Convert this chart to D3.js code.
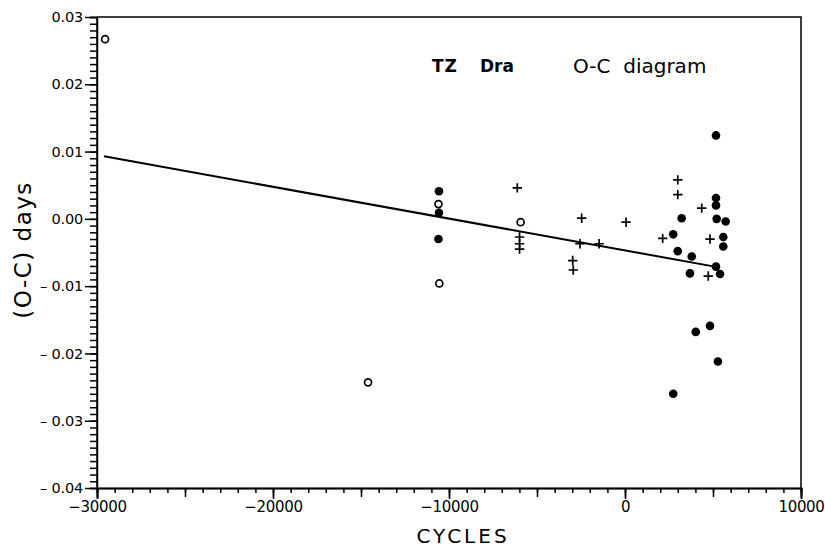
<!DOCTYPE html>
<html>
<head>
<meta charset="utf-8">
<script src="https://cdn.jsdelivr.net/npm/d3@7"></script>
<style>
  body { margin: 0; background: #fff; }
  svg { display: block; }
  .axis path, .axis line { stroke: #000; stroke-width: 1.5; }
  .axis text { font-family: "DejaVu Sans", sans-serif; fill: #000; }
</style>
</head>
<body>
<div id="wrapper"></div>
<script>
// data
const filledCycles = [-10570, -10570, -10600, 5170, 5170, 5170, 3220, 5210, 5720, 2740, 5585, 5585, 2995, 3790, 5170, 3690, 5400, 4830, 4020, 5280, 2740];
const filledOC = [0.0041, 0.0009, -0.0030, 0.0124, 0.0031, 0.0020, 0.0001, 0.0000, -0.0004, -0.0023, -0.0027, -0.0041, -0.0048, -0.0056, -0.0071, -0.0081, -0.0082, -0.0159, -0.0168, -0.0212, -0.0260];

const openCycles = [-29540, -10600, -10550, -5930, -14600];
const openOC = [0.0267, 0.0022, -0.0096, -0.0005, -0.0243];

const plusCycles = [-6120, -5990, -5990, -5990, -2460, -2560, -2970, -2940, -1470, 60, 2140, 3000, 3000, 4360, 4830, 4730];
const plusOC = [0.0046, -0.0027, -0.0037, -0.0045, 0.0001, -0.0037, -0.0062, -0.0076, -0.0037, -0.0005, -0.0029, 0.0058, 0.0036, 0.0016, -0.0030, -0.0085];

const fitCycles = [-29600, 5100];
const fitOC = [0.0093, -0.0071];

const xMajorTicks = [-30000, -20000, -10000, 0, 10000];
const yMajorTicks = [0.03, 0.02, 0.01, 0.00, -0.01, -0.02, -0.03, -0.04];

function drawChart() {
  const width = 825;
  const height = 547;
  const plot = { left: 97, right: 801, top: 17, bottom: 488 };

  const svg = d3.select("#wrapper").append("svg")
    .attr("width", width)
    .attr("height", height);

  const xScale = d3.scaleLinear().domain([-30000, 10000]).range([plot.left, plot.right]);
  const yScale = d3.scaleLinear().domain([-0.04, 0.03]).range([plot.bottom, plot.top]);

  // frame: top and right borders
  svg.append("path")
    .attr("d", `M${plot.left},${plot.top}H${plot.right}V${plot.bottom}`)
    .attr("fill", "none")
    .attr("stroke", "#000")
    .attr("stroke-width", 1.5);

  // x axis: minor, mid and labelled ticks
  const xMinor = d3.range(-30000, 10001, 1000);
  const xMid = d3.range(-30000, 10001, 5000);
  svg.append("g").attr("class", "axis")
    .attr("transform", `translate(0,${plot.bottom})`)
    .call(d3.axisBottom(xScale).tickValues(xMinor).tickSize(5).tickFormat(""));
  svg.append("g").attr("class", "axis")
    .attr("transform", `translate(0,${plot.bottom})`)
    .call(d3.axisBottom(xScale).tickValues(xMid).tickSize(9).tickFormat(""));
  const xAxis = svg.append("g").attr("class", "axis")
    .attr("transform", `translate(0,${plot.bottom})`)
    .call(d3.axisBottom(xScale).tickValues(xMajorTicks).tickSize(11).tickPadding(2)
      .tickFormat(d => d < 0 ? "\u2212" + Math.abs(d) : String(d)));
  xAxis.selectAll("text").style("font-size", "15px").attr("letter-spacing", "-0.3");

  // y axis
  const yMinor = d3.range(-40, 31).map(d => d / 1000);
  svg.append("g").attr("class", "axis")
    .attr("transform", `translate(${plot.left},0)`)
    .call(d3.axisLeft(yScale).tickValues(yMinor).tickSize(7).tickFormat(""));
  const yAxis = svg.append("g").attr("class", "axis")
    .attr("transform", `translate(${plot.left},0)`)
    .call(d3.axisLeft(yScale).tickValues(yMajorTicks).tickSize(12).tickPadding(2)
      .tickFormat(d => d < -1e-9 ? "\u2013 " + Math.abs(d).toFixed(2) : d.toFixed(2)));
  yAxis.selectAll("text").style("font-size", "14.5px").attr("letter-spacing", "-0.2");
  yAxis.select(".domain").remove();
  svg.append("line")
    .attr("x1", plot.left).attr("x2", plot.left)
    .attr("y1", plot.top).attr("y2", plot.bottom)
    .attr("stroke", "#000").attr("stroke-width", 1.5);

  // fitted line
  const fit = fitCycles.map((c, i) => [c, fitOC[i]]);
  svg.append("path")
    .attr("d", d3.line().x(d => xScale(d[0])).y(d => yScale(d[1]))(fit))
    .attr("fill", "none")
    .attr("stroke", "#000")
    .attr("stroke-width", 2);

  // filled circles
  const filled = filledCycles.map((c, i) => [c, filledOC[i]]);
  svg.append("g").selectAll("circle")
    .data(filled)
    .join("circle")
    .attr("cx", d => xScale(d[0]))
    .attr("cy", d => yScale(d[1]))
    .attr("r", 4.3)
    .attr("fill", "#000");

  // open circles
  const open = openCycles.map((c, i) => [c, openOC[i]]);
  svg.append("g").selectAll("circle")
    .data(open)
    .join("circle")
    .attr("cx", d => xScale(d[0]))
    .attr("cy", d => yScale(d[1]))
    .attr("r", 3.5)
    .attr("fill", "#fff")
    .attr("stroke", "#000")
    .attr("stroke-width", 1.7);

  // plus markers
  const plus = plusCycles.map((c, i) => [c, plusOC[i]]);
  const s = 4.7;
  svg.append("g").selectAll("path")
    .data(plus)
    .join("path")
    .attr("d", d => {
      const x = xScale(d[0]), y = yScale(d[1]);
      return `M${x - s},${y}H${x + s}M${x},${y - s}V${y + s}`;
    })
    .attr("stroke", "#000")
    .attr("stroke-width", 1.7);

  // titles and axis labels
  const titleFont = "DejaVu Sans, sans-serif";
  svg.append("text")
    .attr("x", 432).attr("y", 72)
    .style("font-family", titleFont)
    .style("font-size", "17px").style("font-weight", "bold")
    .attr("letter-spacing", "1")
    .text("TZ");
  svg.append("text")
    .attr("x", 480).attr("y", 72)
    .style("font-family", titleFont)
    .style("font-size", "17px").style("font-weight", "bold")
    .text("Dra");

  svg.append("text")
    .attr("x", 573).attr("y", 73)
    .style("font-family", titleFont)
    .style("font-size", "20px")
    .attr("xml:space", "preserve")
    .text("O-C  diagram");

  svg.append("text")
    .attr("x", 463)
    .attr("y", 543)
    .attr("text-anchor", "middle")
    .style("font-family", titleFont)
    .style("font-size", "20px")
    .attr("letter-spacing", "3")
    .text("CYCLES");

  svg.append("text")
    .attr("transform", "translate(31,250) rotate(-90)")
    .attr("text-anchor", "middle")
    .style("font-family", titleFont)
    .style("font-size", "23px")
    .attr("letter-spacing", "1.5")
    .attr("xml:space", "preserve")
    .text("(O-C) days");
}
drawChart();
</script>
</body>
</html>
